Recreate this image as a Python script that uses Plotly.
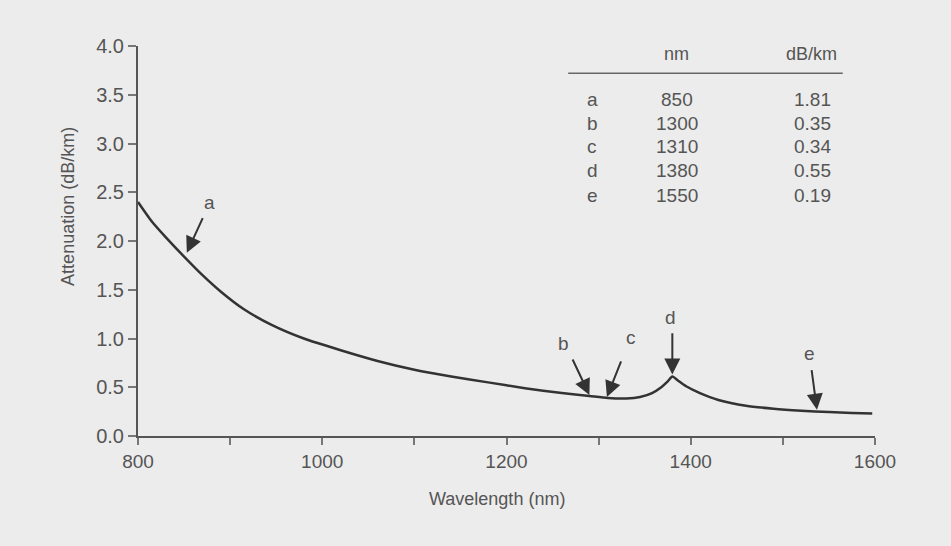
import plotly.graph_objects as go

# Attenuation curve
wavelength_nm = [800, 815, 830, 850, 870, 890, 915, 945, 980, 1020, 1060, 1100, 1140,
                 1180, 1220, 1260, 1290, 1310, 1330, 1345, 1358, 1368, 1375, 1380,
                 1386, 1395, 1410, 1430, 1460, 1490, 1520, 1550, 1575, 1597]
attenuation_db = [2.40, 2.20, 2.04, 1.84, 1.65, 1.48, 1.30, 1.14, 1.00, 0.88, 0.77, 0.68, 0.61,
                  0.55, 0.49, 0.44, 0.41, 0.39, 0.385, 0.40, 0.44, 0.50, 0.56, 0.61,
                  0.57, 0.51, 0.44, 0.37, 0.31, 0.28, 0.26, 0.245, 0.235, 0.23]

# Table
table_labels = ["a", "b", "c", "d", "e"]
table_nm = ["850", "1300", "1310", "1380", "1550"]
table_db = ["1.81", "0.35", "0.34", "0.55", "0.19"]

# Arrow markers: label, label position, arrow tail, arrow tip (data units)
arrow_labels = ["a", "b", "c", "d", "e"]
label_x = [878, 1262, 1335, 1378, 1529]
label_y = [2.39, 0.95, 1.01, 1.22, 0.85]
tail_x = [871, 1271, 1325, 1380, 1531]
tail_y = [2.25, 0.80, 0.78, 1.07, 0.69]
tip_x = [853, 1290, 1309, 1380, 1537]
tip_y = [1.88, 0.42, 0.40, 0.63, 0.27]

x_tickvals = [800, 900, 1000, 1100, 1200, 1300, 1400, 1500, 1600]
x_ticktext = ["800", "", "1000", "", "1200", "", "1400", "", "1600"]
y_tickvals = [0.0, 0.5, 1.0, 1.5, 2.0, 2.5, 3.0, 3.5, 4.0]
y_ticktext = ["0.0", "0.5", "1.0", "1.5", "2.0", "2.5", "3.0", "3.5", "4.0"]

TXT = "#555555"
FONT = "Liberation Sans, Arial, sans-serif"

fig = go.Figure()
fig.add_trace(go.Scatter(x=wavelength_nm, y=attenuation_db, mode="lines",
                         line=dict(color="#333333", width=2.5, shape="spline", smoothing=0.6),
                         hoverinfo="skip"))

ann = []
for lab, lx, ly, tx, ty, px, py in zip(arrow_labels, label_x, label_y, tail_x, tail_y, tip_x, tip_y):
    ann.append(dict(x=px, y=py, ax=tx, ay=ty, xref="x", yref="y", axref="x", ayref="y",
                    text="", showarrow=True, arrowhead=2, arrowsize=1.6, arrowwidth=2,
                    arrowcolor="#333333", standoff=0, startstandoff=0))
    ann.append(dict(x=lx, y=ly, xref="x", yref="y", text=lab, showarrow=False,
                    font=dict(size=19, color=TXT, family=FONT)))

# table header
ann.append(dict(x=1384, y=3.92, xref="x", yref="y", text="nm", showarrow=False,
                font=dict(size=18, color=TXT, family=FONT)))
ann.append(dict(x=1531, y=3.92, xref="x", yref="y", text="dB/km", showarrow=False,
                font=dict(size=18, color=TXT, family=FONT)))
row_y = [3.45, 3.21, 2.97, 2.72, 2.47]
for lab, nm, db, ry in zip(table_labels, table_nm, table_db, row_y):
    ann.append(dict(x=1293, y=ry, xref="x", yref="y", text=lab, showarrow=False,
                    font=dict(size=19, color=TXT, family=FONT)))
    ann.append(dict(x=1385, y=ry, xref="x", yref="y", text=nm, showarrow=False,
                    font=dict(size=19, color=TXT, family=FONT)))
    ann.append(dict(x=1554, y=ry, xref="x", yref="y", text=db, showarrow=False,
                    xanchor="right", font=dict(size=19, color=TXT, family=FONT)))

# axis titles
ann.append(dict(x=0.487, y=-0.13, xref="paper", yref="paper", yanchor="top",
                text="Wavelength (nm)", showarrow=False,
                font=dict(size=18, color=TXT, family=FONT)))
ann.append(dict(x=-0.095, y=0.59, xref="paper", yref="paper", xanchor="center",
                text="Attenuation (dB/km)", textangle=-90, showarrow=False,
                font=dict(size=18, color=TXT, family=FONT)))

fig.update_layout(
    width=951, height=546,
    margin=dict(l=138, r=76, t=46, b=110),
    paper_bgcolor="#ececec", plot_bgcolor="#ececec",
    showlegend=False,
    annotations=ann,
    shapes=[dict(type="line", xref="x", yref="y", x0=1267, x1=1565, y0=3.72, y1=3.72,
                 line=dict(color="#666666", width=1.5))],
)
fig.update_xaxes(range=[800, 1600], tickvals=x_tickvals, ticktext=x_ticktext,
                 showgrid=False, zeroline=False, showline=True, linecolor="#555555",
                 linewidth=2, ticks="outside", ticklen=7, tickwidth=1.5, tickcolor="#777777",
                 tickfont=dict(size=19, color=TXT, family=FONT))
fig.update_yaxes(range=[0, 4], tickvals=y_tickvals, ticktext=y_ticktext,
                 showgrid=False, zeroline=False, showline=True, linecolor="#555555",
                 linewidth=2, ticks="outside", ticklen=8, tickwidth=1.5, tickcolor="#777777",
                 tickfont=dict(size=20, color=TXT, family=FONT))

fig.write_html("out.html")
